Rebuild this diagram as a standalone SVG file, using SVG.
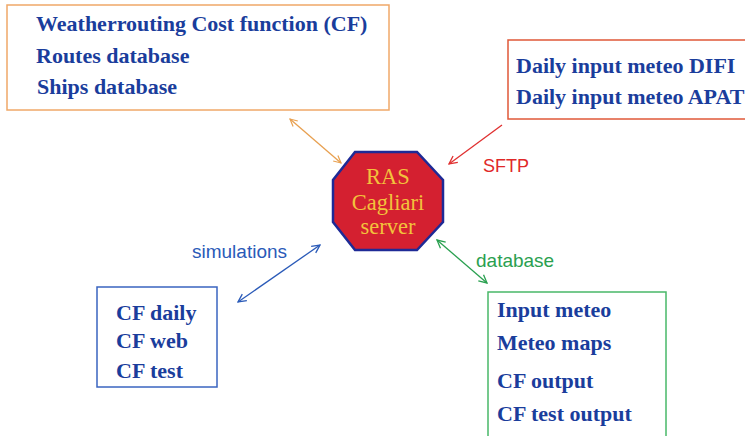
<svg xmlns="http://www.w3.org/2000/svg" width="745" height="436" viewBox="0 0 745 436">
<style>
.t{font-family:"Liberation Serif","Times New Roman",serif;font-weight:bold;font-size:22px;fill:#1a3d9c}
.lbl{font-family:"Liberation Sans",Arial,sans-serif;font-size:19px}
.box{fill:#fff;stroke-width:1.5}
.srv{font-family:"Liberation Serif","Times New Roman",serif;font-size:22.5px;fill:#f2c23c;text-anchor:middle}
</style>
<defs>
<marker id="ao" viewBox="0 0 10 10" refX="9" refY="5" markerWidth="9" markerHeight="9" orient="auto-start-reverse" markerUnits="userSpaceOnUse"><path d="M1,1 L9,5 L1,9" fill="none" stroke="#e8a050" stroke-width="1.3"/></marker>
<marker id="ar" viewBox="0 0 10 10" refX="9" refY="5" markerWidth="10" markerHeight="10" orient="auto-start-reverse" markerUnits="userSpaceOnUse"><path d="M1,1 L9,5 L1,9" fill="none" stroke="#e03030" stroke-width="1.3"/></marker>
<marker id="ab" viewBox="0 0 10 10" refX="9" refY="5" markerWidth="10" markerHeight="10" orient="auto-start-reverse" markerUnits="userSpaceOnUse"><path d="M1,1 L9,5 L1,9" fill="none" stroke="#2a5ab8" stroke-width="1.3"/></marker>
<marker id="ag" viewBox="0 0 10 10" refX="9" refY="5" markerWidth="10" markerHeight="10" orient="auto-start-reverse" markerUnits="userSpaceOnUse"><path d="M1,1 L9,5 L1,9" fill="none" stroke="#2aa050" stroke-width="1.3"/></marker>
</defs>
<rect width="745" height="436" fill="#fff"/>
<g id="connectors">
<line x1="290" y1="119" x2="341" y2="163" stroke="#e8a050" stroke-width="1.3" marker-start="url(#ao)" marker-end="url(#ao)"/>
<line x1="502" y1="125" x2="449" y2="164" stroke="#e03030" stroke-width="1.3" marker-end="url(#ar)"/>
<text class="lbl" x="483" y="172" fill="#e02828" style="font-size:18px">SFTP</text>
<line x1="238" y1="302" x2="320" y2="245" stroke="#2a5ab8" stroke-width="1.3" marker-start="url(#ab)" marker-end="url(#ab)"/>
<text class="lbl" x="192" y="258" fill="#2a5ab8">simulations</text>
<line x1="437" y1="240" x2="487" y2="283" stroke="#2aa050" stroke-width="1.3" marker-start="url(#ag)" marker-end="url(#ag)"/>
<text class="lbl" x="476" y="267" fill="#2aa050">database</text>
</g>
<g id="cf-box">
<rect class="box" x="7" y="5" width="382" height="105" stroke="#f0a868"/>
<text class="t" x="36" y="31">Weatherrouting Cost function (CF)</text>
<text class="t" x="36" y="63">Routes database</text>
<text class="t" x="37" y="94">Ships database</text>
</g>
<g id="meteo-input">
<rect class="box" x="508" y="40" width="250" height="79" stroke="#e05838"/>
<text class="t" x="516" y="73">Daily input meteo DIFI</text>
<text class="t" x="516" y="104">Daily input meteo APAT</text>
</g>
<g id="server">
<polygon points="355,152 417,152 443,180 443,222 417,250 355,250 333,222 333,180" fill="#d42030" stroke="#1e2a96" stroke-width="2.5"/>
<text class="srv" x="388" y="184">RAS</text>
<text class="srv" x="388" y="210">Cagliari</text>
<text class="srv" x="388" y="234">server</text>
</g>
<g id="cf-list">
<rect class="box" x="97" y="287" width="120" height="100" stroke="#3a64c0"/>
<text class="t" x="116" y="320">CF daily</text>
<text class="t" x="116" y="348">CF web</text>
<text class="t" x="116" y="378">CF test</text>
</g>
<g id="db-box">
<rect class="box" x="488" y="292" width="178" height="160" stroke="#48b868"/>
<text class="t" x="497" y="317">Input meteo</text>
<text class="t" x="497" y="350">Meteo maps</text>
<text class="t" x="497" y="388">CF output</text>
<text class="t" x="497" y="421">CF test output</text>
</g>
</svg>
